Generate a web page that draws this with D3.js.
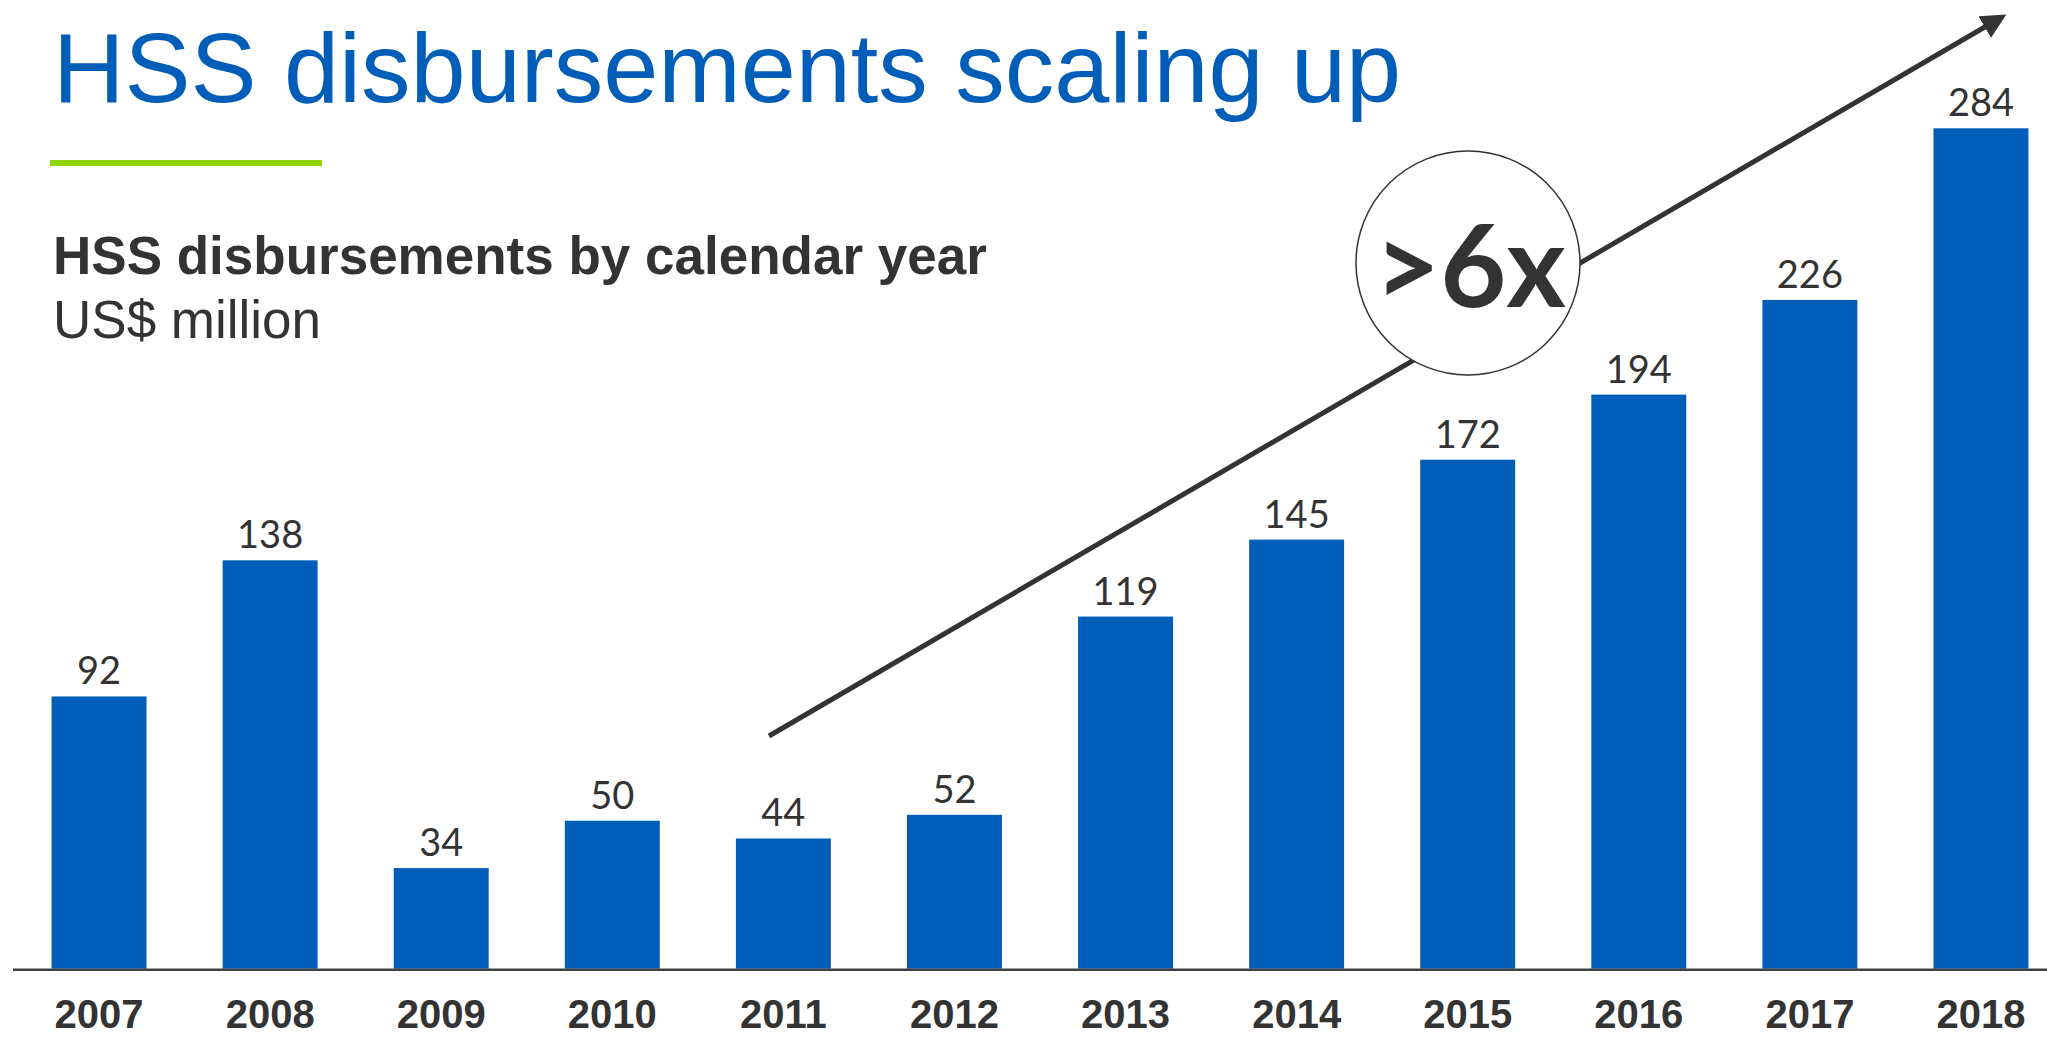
<!DOCTYPE html>
<html>
<head>
<meta charset="utf-8">
<script src="https://cdn.jsdelivr.net/npm/d3@7"></script>
<style>
  body { margin: 0; background: #fff; }
  svg { display: block; }
</style>
</head>
<body>
<svg width="2047" height="1037"></svg>
<script>
// chart data
var years = ["2007", "2008", "2009", "2010", "2011", "2012", "2013", "2014", "2015", "2016", "2017", "2018"];
var disbursements = [92, 138, 34, 50, 44, 52, 119, 145, 172, 194, 226, 284];
var titleText = "HSS disbursements scaling up";
var subtitleText = "HSS disbursements by calendar year";
var unitText = "US$ million";
var growthText = ">6x";

var svg = d3.select("svg"),
    width = +svg.attr("width"),
    height = +svg.attr("height");

var blue = "#005EB8",
    dark = "#333333";

var baseY = 968.7;

var x = d3.scaleBand()
    .domain(years)
    .range([13.5, 2066.5])
    .paddingInner(0.445)
    .paddingOuter(0.2225);

var y = d3.scaleLinear()
    .domain([0, 284])
    .range([baseY, 128.3]);

// title
svg.append("text")
    .attr("x", 53)
    .attr("y", 102)
    .attr("font-family", "Liberation Sans, Arial, sans-serif")
    .attr("font-size", 99)
    .attr("fill", blue)
    .text(titleText);

svg.append("rect")
    .attr("x", 50).attr("y", 160)
    .attr("width", 272).attr("height", 6)
    .attr("fill", "#8FD400");

svg.append("text")
    .attr("x", 53)
    .attr("y", 274)
    .attr("font-family", "Liberation Sans, Arial, sans-serif")
    .attr("font-weight", "bold")
    .attr("font-size", 53)
    .attr("fill", dark)
    .text(subtitleText);

svg.append("text")
    .attr("x", 53)
    .attr("y", 338)
    .attr("font-family", "Liberation Sans, Arial, sans-serif")
    .attr("font-size", 53)
    .attr("fill", dark)
    .text(unitText);

// trend arrow
svg.append("defs").append("marker")
    .attr("id", "head")
    .attr("viewBox", "0 0 10 10")
    .attr("refX", 8).attr("refY", 5)
    .attr("markerWidth", 5).attr("markerHeight", 5)
    .attr("orient", "auto")
    .append("path")
    .attr("d", "M0,0 L10,5 L0,10 z")
    .attr("fill", dark);

svg.append("line")
    .attr("x1", 769)
    .attr("y1", 736)
    .attr("x2", 2002)
    .attr("y2", 17)
    .attr("stroke", dark)
    .attr("stroke-width", 5)
    .attr("marker-end", "url(#head)");

// bars
svg.append("g")
    .selectAll("rect")
    .data(disbursements)
    .enter().append("rect")
    .attr("x", (d, i) => x(years[i]))
    .attr("y", d => y(d))
    .attr("width", x.bandwidth())
    .attr("height", d => baseY - y(d))
    .attr("fill", blue);

// value labels
svg.append("g")
    .selectAll("text")
    .data(disbursements)
    .enter().append("text")
    .attr("x", (d, i) => x(years[i]) + x.bandwidth() / 2)
    .attr("y", d => y(d) - 12)
    .attr("text-anchor", "middle")
    .attr("font-family", "Lato, Open Sans, sans-serif")
    .attr("font-size", 38)
    .attr("fill", dark)
    .text(d => d);

// baseline
svg.append("line")
    .attr("x1", 13).attr("x2", width)
    .attr("y1", baseY + 1).attr("y2", baseY + 1)
    .attr("stroke", "#404040")
    .attr("stroke-width", 2.5);

// year labels
var xAxis = d3.axisBottom(x).tickSize(0).tickPadding(0);
var ax = svg.append("g")
    .attr("transform", "translate(0," + baseY + ")")
    .call(xAxis);
ax.select(".domain").remove();
ax.selectAll("text")
    .attr("dy", null)
    .attr("y", 59)
    .attr("font-family", "Liberation Sans, Arial, sans-serif")
    .attr("font-weight", "bold")
    .attr("font-size", 40)
    .attr("fill", dark);

// growth badge
svg.append("circle")
    .attr("cx", 1468).attr("cy", 263).attr("r", 112)
    .attr("fill", "#fff")
    .attr("stroke", dark)
    .attr("stroke-width", 1.5);

svg.append("text")
    .attr("x", 1470)
    .attr("y", 307)
    .attr("text-anchor", "middle")
    .attr("font-family", "Lato, Open Sans, sans-serif")
    .attr("font-weight", "bold")
    .attr("font-size", 114)
    .attr("fill", dark)
    .text(growthText);
</script>
</body>
</html>
